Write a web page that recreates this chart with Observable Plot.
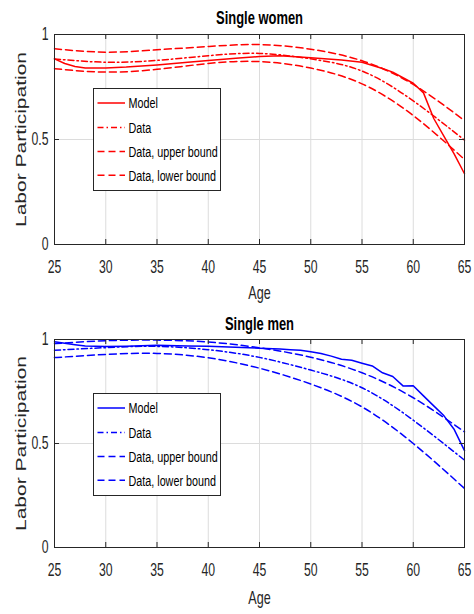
<!DOCTYPE html>
<html><head><meta charset="utf-8">
<script src="https://cdn.jsdelivr.net/npm/d3@7"></script>
<script src="https://cdn.jsdelivr.net/npm/@observablehq/plot@0.6"></script>
<style>
body{margin:0;background:#fff;}
#wrap{position:relative;width:474px;}
.panel{position:relative;width:474px;height:307px;}
svg{display:block;}
.legend{position:absolute;}
</style></head><body><div id="wrap"></div>
<script>
// ---- data ----
const ages5 = [25,30,35,40,45,50,55,60,65];
const xTicks = [25,30,35,40,45,50,55,60,65];
const yTicks = [0,0.5,1];
const legendLabels = ["Model","Data","Data, upper bound","Data, lower bound"];

const womenUpper = [0.932,0.916,0.927,0.943,0.952,0.930,0.875,0.762,0.590];
const womenData  = [0.884,0.868,0.877,0.899,0.910,0.884,0.826,0.684,0.497];
const womenLower = [0.837,0.821,0.834,0.862,0.871,0.840,0.765,0.614,0.405];
const womenModelAges = [25,26,27,28,30,32,35,38,40,43,45,47,50,53,55,57,58,59,60,61,62,63,64,65];
const womenModel = [0.884,0.862,0.848,0.841,0.841,0.845,0.855,0.868,0.876,0.888,0.895,0.899,0.889,0.878,0.868,0.838,0.821,0.794,0.768,0.722,0.600,0.515,0.430,0.337];

const menUpper = [0.980,0.994,0.997,0.988,0.960,0.915,0.840,0.720,0.556];
const menData  = [0.948,0.961,0.967,0.951,0.914,0.853,0.768,0.612,0.420];
const menLower = [0.913,0.928,0.933,0.912,0.862,0.786,0.676,0.500,0.284];
const menModelAges = [25,26,27,28,30,32,35,38,40,42,45,47,48,49,50,51,52,53,54,55,56,57,58,59,60,61,62,63,64,65];
const menModel = [0.989,0.982,0.975,0.969,0.966,0.968,0.972,0.969,0.967,0.964,0.958,0.954,0.951,0.948,0.941,0.933,0.920,0.905,0.900,0.886,0.873,0.840,0.822,0.777,0.778,0.729,0.681,0.633,0.567,0.466];

const SX = 0.7;
const FONT = "'Liberation Sans', Arial, Helvetica, sans-serif";
const AX = "#262626";
const DASH = "7,4";
const DASHDOT = "6,3,1.5,3";
const W = 474, ML = 54, MR = 10, TICK = 5;

function squeeze(root){
  root.querySelectorAll("text").forEach(t=>{
    const tr = t.getAttribute("transform")||"";
    if (tr.includes("rotate(")) t.setAttribute("transform", tr.replace("rotate(", `scale(${SX},1) rotate(`));
    else t.setAttribute("transform", tr + ` scale(${SX},1)`);
  });
}

function rows(ages, vals){ return ages.map((a,i)=>({age:a, v:vals[i]})); }

function panel(o){
  const div = document.createElement("div");
  div.className = "panel";
  document.getElementById("wrap").appendChild(div);
  const fh = 307 - o.marginTop - o.marginBottom;
  const fw = W - ML - MR;
  const svg = Plot.plot({
    width:W, height:307,
    marginLeft:ML, marginRight:MR, marginTop:o.marginTop, marginBottom:o.marginBottom,
    x:{domain:[25,65], label:null},
    y:{domain:[0,1], label:null},
    style:{fontFamily:FONT, background:"white", color:AX, overflow:"visible"},
    marks:[
      Plot.gridX(xTicks,{stroke:"#dcdcdc", strokeOpacity:1}),
      Plot.gridY([0.5],{stroke:"#dcdcdc", strokeOpacity:1}),
      Plot.line(rows(ages5,o.upper),{x:"age",y:"v",stroke:o.color,strokeWidth:1.5,strokeDasharray:DASH,curve:"natural"}),
      Plot.line(rows(ages5,o.lower),{x:"age",y:"v",stroke:o.color,strokeWidth:1.5,strokeDasharray:DASH,curve:"natural"}),
      Plot.line(rows(ages5,o.data),{x:"age",y:"v",stroke:o.color,strokeWidth:1.5,strokeDasharray:DASHDOT,curve:"natural"}),
      Plot.line(rows(o.modelAges,o.model),{x:"age",y:"v",stroke:o.color,strokeWidth:1.5}),
      // inward ticks
      Plot.tickX(xTicks,{x:d=>d, stroke:AX, insetTop:fh-TICK}),
      Plot.tickX(xTicks,{x:d=>d, stroke:AX, insetBottom:fh-TICK}),
      Plot.tickY(yTicks,{y:d=>d, stroke:AX, insetRight:fw-TICK}),
      Plot.tickY(yTicks,{y:d=>d, stroke:AX, insetLeft:fw-TICK}),
      Plot.frame({stroke:AX}),
      Plot.axisX(xTicks,{anchor:"bottom", tickSize:0, tickPadding:16, fontSize:17.5, tickFormat:d=>String(d), label:null}),
      Plot.axisY(yTicks,{anchor:"left", tickSize:0, tickPadding:6, fontSize:17.5, tickFormat:d=>String(d), label:null}),
      Plot.text([o.title],{frameAnchor:"top", dy:o.titleDy, fontWeight:"bold", fontSize:18.5, lineAnchor:"middle", fill:"black"}),
      Plot.text(["Age"],{frameAnchor:"bottom", dy:o.ageDy, fontSize:18, lineAnchor:"middle", fill:AX}),
      Plot.text(["Labor Participation"],{frameAnchor:"left", dx:-33, rotate:-90, fontSize:21, textAnchor:"middle", lineAnchor:"middle", fill:AX})
    ]
  });
  squeeze(svg);
  div.appendChild(svg);

  // legend overlay
  const lg = d3.select(div).append("svg").attr("class","legend")
    .attr("width",128).attr("height",103)
    .style("left",(o.legendX)+"px").style("top",(o.legendY)+"px");
  lg.append("rect").attr("x",0.5).attr("y",0.5).attr("width",127).attr("height",102)
    .attr("fill","white").attr("stroke",AX).attr("stroke-width",1);
  const ry = [15,39.5,63.5,87.2];
  const styles = [null, DASHDOT, DASH, DASH];
  legendLabels.forEach((lab,i)=>{
    lg.append("line").attr("x1",4.5).attr("x2",32).attr("y1",ry[i]).attr("y2",ry[i])
      .attr("stroke",o.color).attr("stroke-width",1.5).attr("stroke-dasharray",styles[i]);
    lg.append("text").attr("transform",`translate(35.5,${ry[i]})`).attr("dy","0.35em")
      .attr("font-family",FONT).attr("font-size",15.4).attr("fill","black").text(lab);
  });
  squeeze(lg.node());
}

panel({title:"Single women", color:"#ff0000", upper:womenUpper, data:womenData, lower:womenLower,
  modelAges:womenModelAges, model:womenModel, marginTop:34, marginBottom:63, titleDy:-16, ageDy:49,
  legendX:93, legendY:88});
panel({title:"Single men", color:"#0000ff", upper:menUpper, data:menData, lower:menLower,
  modelAges:menModelAges, model:menModel, marginTop:32, marginBottom:67, titleDy:-15.5, ageDy:51,
  legendX:93, legendY:86});
</script></body></html>
